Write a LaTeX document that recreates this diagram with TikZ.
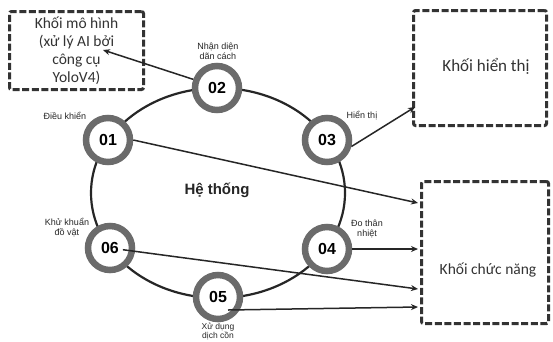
\documentclass[tikz,border=0pt]{standalone}
\usepackage{fontspec}
\setmainfont{Carlito}
\newfontfamily\arialf{Liberation Sans}
\usetikzlibrary{arrows.meta}
\begin{document}
\begin{tikzpicture}[x=1pt,y=-1pt,
  dbox/.style={draw=black!80, line width=3pt, dash pattern=on 7pt off 2.6pt, rounded corners=2pt, inner sep=0pt},
  boxtxt/.style={align=center, font=\fontsize{15.5}{18}\selectfont, text=black!80},
  ring/.style={circle, draw=black!58, line width=6.5pt, fill=white, minimum size=44pt, inner sep=0pt, font=\arialf\bfseries\fontsize{16}{16}\selectfont},
  lbl/.style={align=center, font=\arialf\fontsize{9}{10}\selectfont, text=black!85},
  arr/.style={draw=black!85, line width=1.5pt, -{Stealth[length=7pt,width=6pt]}},
  ]
\useasboundingbox (0,0) rectangle (553,341);
\fill[white] (0,0) rectangle (553,341);

% dashed boxes
\node[dbox, minimum width=134pt, minimum height=78pt] (b1) at (76.5,50.5) {};
\node[boxtxt] (t1) at (76.5,51) {Khối mô hình\\(xử lý AI bởi\\công cụ\\YoloV4)};
\node[dbox, minimum width=133pt, minimum height=115pt] (b2) at (480,68) {};
\node[boxtxt, font=\fontsize{17}{20}\selectfont] (t2) at (486,66) {Khối hiển thị};
\node[dbox, minimum width=127pt, minimum height=142pt] (b3) at (485,252.5) {};
\node[boxtxt] (t3) at (488,270) {Khối chức năng};

% big ellipse
\draw[line width=2.2pt, draw=black!85] (218,193) ellipse [x radius=127, y radius=105];
\node[font=\arialf\bfseries\fontsize{15}{15}\selectfont, text=black!85] (sys) at (217,190) {Hệ thống};

% ring nodes
\node[ring] (n1) at (108,140) {01};
\node[ring] (n2) at (217,88) {02};
\node[ring] (n3) at (327,140) {03};
\node[ring] (n4) at (327,249) {04};
\node[ring] (n5) at (218,297) {05};
\node[ring] (n6) at (110,248) {06};

% labels
\node[lbl] (l1) at (65,116) {Điều khiển};
\node[lbl] (l2) at (218,51) {Nhận diện\\dãn cách};
\node[lbl] (l3) at (362,116) {Hiển thị};
\node[lbl] (l4) at (367,229) {Đo thân\\nhiệt};
\node[lbl, anchor=south, inner sep=1pt, font=\arialf\fontsize{8.5}{9}\selectfont] (l5) at (218,341) {Xử dụng\\dịch cồn};
\node[lbl] (l6) at (67,228) {Khử khuẩn\\đồ vật};

% arrow targets
\coordinate (a1) at (103,50);
\coordinate (a2) at (415,107);
\coordinate (a3) at (418,203);
\coordinate (a4) at (418,249);
\coordinate (a5) at (418,289);
\coordinate (a6) at (418,307);

% arrows
\draw[arr] (n2.160) -- (a1);
\draw[arr] (n3.-15) -- (a2);
\draw[arr] (n1.east) -- (a3);
\draw[arr] (n4.east) -- (a4);
\draw[arr, shorten <=13pt] (n6.center) -- (a5);
\draw[arr] ([shift={(10,13)}]n5.center) -- (a6);
\end{tikzpicture}
\end{document}
